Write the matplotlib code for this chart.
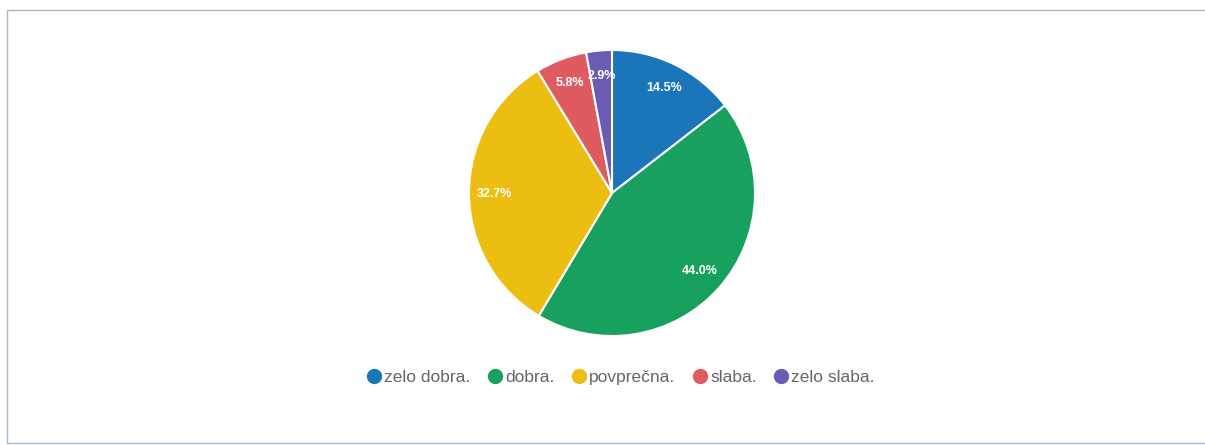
import matplotlib
matplotlib.use("Agg")
import matplotlib.pyplot as plt
from matplotlib.lines import Line2D
from matplotlib.patches import Rectangle

categories = ["zelo dobra.", "dobra.", "povprečna.", "slaba.", "zelo slaba."]
values = [14.5, 44.0, 32.7, 5.8, 2.9]
colors = ["#1b75b9", "#17a05e", "#ecbe12", "#de5b60", "#6a5cb3"]

plt.rcParams['font.family'] = ['Liberation Sans', 'DejaVu Sans']

W, H = 1205, 445
fig = plt.figure(figsize=(W/100, H/100), dpi=100)
fig.patch.set_facecolor("white")

# frame border
fig.add_artist(Rectangle((7/W, 1 - 443/H), (1210-7)/W, (443-10)/H,
                         transform=fig.transFigure, fill=False,
                         edgecolor="#a9b9c9", linewidth=1.0))

cx, cy, r = 612, 193, 143
ax = fig.add_axes([(cx - r)/W, (H - cy - r)/H, 2*r/W, 2*r/H])
wedges, texts, autotexts = ax.pie(
    values, colors=colors, startangle=90, counterclock=False,
    autopct=lambda p: f"{p:.1f}%", pctdistance=0.82,
    wedgeprops=dict(edgecolor="white", linewidth=1.5),
    textprops=dict(color="white", fontsize=9, fontweight="bold"))
for t, v in zip(autotexts, values):
    t.set_text(f"{v:.1f}%")
ax.set_xlim(-1, 1)
ax.set_ylim(-1, 1)
ax.set_aspect("auto")
ax.axis("off")

handles = [Line2D([0], [0], marker="o", linestyle="none", markersize=10,
                  markerfacecolor=c, markeredgecolor=c) for c in colors]
fig.legend(handles, categories, loc="center", ncol=5,
           bbox_to_anchor=(620/W, 1 - 377/H), frameon=False,
           fontsize=12.5, labelcolor="#666666", handletextpad=0.1,
           columnspacing=0.9, handlelength=1.0)

fig.savefig("out.png", dpi=100)
